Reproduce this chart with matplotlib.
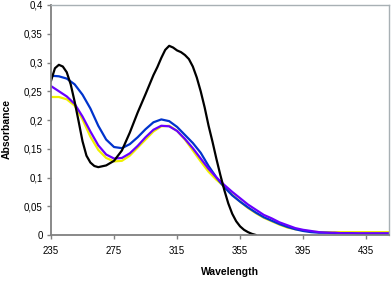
import matplotlib
matplotlib.use('Agg')
import matplotlib.pyplot as plt

# wavelength grid shared by the coloured spectra
wl = [235, 240, 245, 250, 255, 260, 265, 270, 275, 280, 285, 290, 295, 300,
      305, 310, 315, 320, 325, 330, 335, 340, 345, 350, 355, 360, 365, 370,
      375, 380, 385, 390, 395, 400, 405, 410, 415, 420, 425, 430, 435, 440,
      445, 450]

blue = [0.277, 0.276, 0.272, 0.262, 0.244, 0.220, 0.190, 0.166, 0.153, 0.151,
        0.158, 0.170, 0.184, 0.196, 0.201, 0.198, 0.188, 0.174, 0.160, 0.143,
        0.120, 0.100, 0.083, 0.069, 0.058, 0.048, 0.039, 0.031, 0.025, 0.019,
        0.014, 0.010, 0.007, 0.005, 0.004, 0.004, 0.003, 0.003, 0.003, 0.002,
        0.002, 0.002, 0.002, 0.002]

purple = [0.259, 0.250, 0.241, 0.228, 0.206, 0.180, 0.156, 0.140, 0.133, 0.134,
          0.142, 0.155, 0.170, 0.183, 0.190, 0.189, 0.181, 0.167, 0.151, 0.133,
          0.115, 0.100, 0.087, 0.075, 0.064, 0.053, 0.044, 0.035, 0.029, 0.022,
          0.017, 0.012, 0.009, 0.007, 0.005, 0.004, 0.004, 0.003, 0.003, 0.003,
          0.003, 0.003, 0.003, 0.003]

yellow = [0.240, 0.240, 0.236, 0.225, 0.201, 0.171, 0.148, 0.134, 0.128, 0.129,
          0.138, 0.152, 0.166, 0.180, 0.189, 0.190, 0.181, 0.166, 0.147, 0.128,
          0.110, 0.096, 0.084, 0.070, 0.058, 0.047, 0.038, 0.030, 0.024, 0.018,
          0.013, 0.010, 0.008, 0.006, 0.005, 0.005, 0.005, 0.005, 0.005, 0.005,
          0.005, 0.005, 0.005, 0.005]

# black spectrum, read more densely around the peaks, stops once it hits zero
wl_black = [235, 237.5, 240, 242.5, 245, 247.5, 250, 252.5, 255, 257.5, 260,
            262.5, 265, 270, 275, 280, 285, 290, 295, 300, 302.5, 305, 307.5,
            310, 312.5, 315, 317.5, 320, 322.5, 325, 327.5, 330, 332.5, 335,
            337.5, 340, 342.5, 345, 347.5, 350, 352.5, 355, 357.5, 360, 362.5,
            365]
black = [0.268, 0.290, 0.296, 0.293, 0.283, 0.262, 0.232, 0.198, 0.163, 0.138,
         0.126, 0.120, 0.118, 0.121, 0.129, 0.147, 0.178, 0.213, 0.245, 0.278,
         0.292, 0.308, 0.322, 0.329, 0.326, 0.321, 0.318, 0.313, 0.306, 0.293,
         0.274, 0.250, 0.222, 0.190, 0.162, 0.132, 0.104, 0.078, 0.055, 0.037,
         0.024, 0.015, 0.009, 0.005, 0.002, 0.0]

xticks = [235, 275, 315, 355, 395, 435]
yticks = [0, 0.05, 0.1, 0.15, 0.2, 0.25, 0.3, 0.35, 0.4]
ytick_labels = ['0', '0,05', '0,1', '0,15', '0,2', '0,25', '0,3', '0,35', '0,4']

plt.rcParams['font.family'] = ['Liberation Sans', 'DejaVu Sans']

fig = plt.figure(figsize=(3.92, 2.82), dpi=100)
ax = fig.add_axes([51/392, 1 - 235/282, 338/392, 230/282])

line_kw = dict(lw=1.6, solid_joinstyle='round', solid_capstyle='round')
ax.plot(wl, yellow, color='#f0f000', **line_kw)
ax.plot(wl, blue, color='#0033cc', **line_kw)
ax.plot(wl, purple, color='#6a00ff', **line_kw)
ax.plot(wl_black, black, color='black', **line_kw)

ax.set_xlim(235, 449.5)
ax.set_ylim(0, 0.4)
ax.set_xticks(xticks)
ax.set_xticklabels([str(t) for t in xticks])
ax.set_yticks(yticks)
ax.set_yticklabels(ytick_labels)
ax.tick_params(axis='both', labelsize=7, length=3, width=1, color='#808080',
               direction='out')
ax.tick_params(axis='x', pad=5)
ax.tick_params(axis='y', pad=3)

for s in ['left', 'bottom']:
    ax.spines[s].set_color('#808080')
    ax.spines[s].set_linewidth(1.3)
for s in ['top', 'right']:
    ax.spines[s].set_color('#a8b0b4')
    ax.spines[s].set_linewidth(1.0)

ax.set_xlabel('Wavelength', fontsize=7.5, fontweight='bold')
ax.set_ylabel('Absorbance', fontsize=7.5, fontweight='bold')
ax.xaxis.set_label_coords(0.53, -0.14)
ax.yaxis.set_label_coords(-0.115, 0.46)

fig.savefig('out.png', dpi=100)
